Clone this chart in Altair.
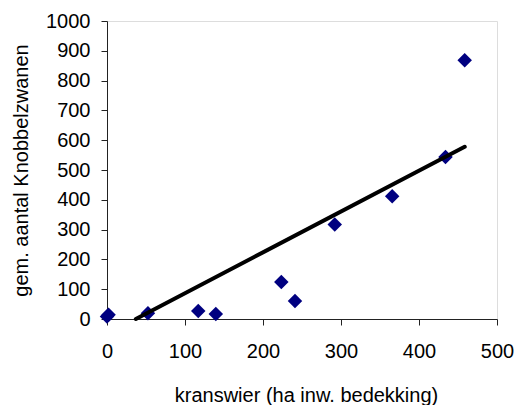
import altair as alt
import pandas as pd

# Kranswier cover (ha) vs. mean number of mute swans per site
kranswier = [0, 2, 52.5, 117, 139.5, 223.5, 241, 292, 365.6, 434, 458.6]
knobbelzwanen = [8, 14, 19, 27, 17, 124, 60, 317, 412, 544, 868]

# Linear trend line coefficients
trend_slope = 1.371
trend_intercept = -50.7

x_ticks = [0, 100, 200, 300, 400, 500]
y_ticks = [0, 100, 200, 300, 400, 500, 600, 700, 800, 900, 1000]

points = pd.DataFrame({"x": kranswier, "y": knobbelzwanen})

x_start = -trend_intercept / trend_slope
x_end = max(kranswier)
trend = pd.DataFrame({
    "x": [x_start, x_end],
    "y": [trend_slope * x_start + trend_intercept, trend_slope * x_end + trend_intercept],
})

FONT = "Liberation Sans"

x_scale = alt.Scale(domain=[0, 500], nice=False, zero=False)
y_scale = alt.Scale(domain=[0, 1000], nice=False, zero=False)

common = dict(
    grid=False, domainColor="#222222", tickColor="#222222", tickSize=6,
    labelFontSize=20, labelColor="black", labelFont=FONT, format="d",
    labelOverlap=False, labelFlush=False,
    titleFont=FONT, titleFontSize=20, titleFontWeight="normal", titleColor="black",
    titleBaseline="alphabetic",
)

x_axis = alt.Axis(
    values=x_ticks, tickCount=6, title="kranswier (ha inw. bedekking)",
    labelPadding=16, titleX=199, titleY=82, titleAlign="center", **common,
)
y_axis = alt.Axis(
    values=y_ticks, tickCount=11, title="gem. aantal Knobbelzwanen",
    labelPadding=11, titleX=-80, titleY=149, titleAngle=-90, titleAlign="center",
    **common,
)

scatter = alt.Chart(points).mark_point(
    shape="diamond", filled=True, color="#000080", size=210, opacity=1
).encode(
    x=alt.X("x:Q", scale=x_scale, axis=x_axis),
    y=alt.Y("y:Q", scale=y_scale, axis=y_axis),
)

line = alt.Chart(trend).mark_line(color="black", strokeWidth=4, strokeCap="round").encode(
    x=alt.X("x:Q", scale=x_scale, axis=x_axis),
    y=alt.Y("y:Q", scale=y_scale, axis=y_axis),
)

chart = alt.layer(scatter, line).properties(
    width=390,
    height=298,
    autosize=alt.AutoSizeParams(type="none"),
    padding={"left": 107, "top": 21, "right": 19, "bottom": 86},
).configure_view(
    stroke="#888888", strokeWidth=1.5
).configure(background="white")

chart.save("out.html", embed_options={"renderer": "svg", "actions": False})
